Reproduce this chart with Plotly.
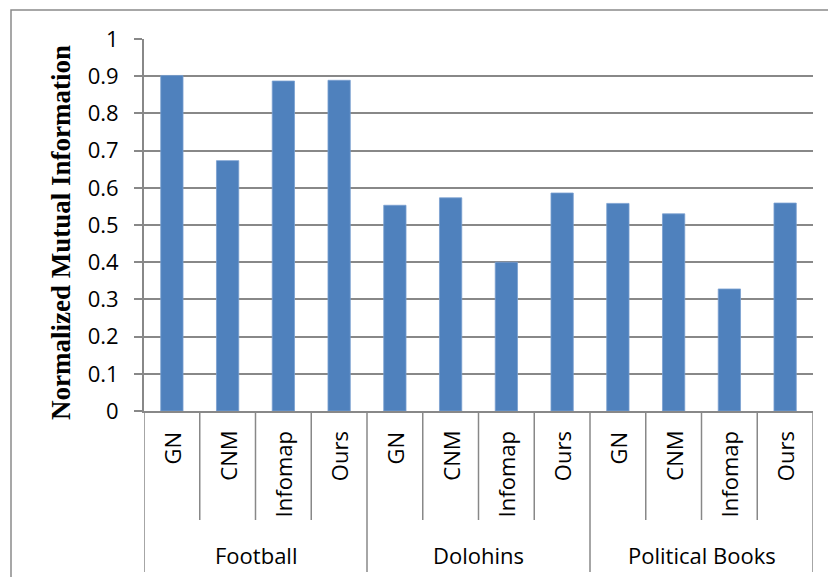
import plotly.graph_objects as go

# ---- data ----
groups = ["Football", "Dolohins", "Political Books"]
methods = ["GN", "CNM", "Infomap", "Ours"]
football = [0.902, 0.673, 0.887, 0.889]
dolphins = [0.553, 0.573, 0.400, 0.586]
polbooks = [0.558, 0.530, 0.328, 0.559]
y_ticks = [0, 0.1, 0.2, 0.3, 0.4, 0.5, 0.6, 0.7, 0.8, 0.9, 1]
y_title = "Normalized Mutual Information"

series = [football, dolphins, polbooks]
values = [v for s in series for v in s]
labels = [m for _ in groups for m in methods]
xs = list(range(len(values)))
n_per = len(methods)

W, H = 828, 577
L, R, T, B = 144, 15, 39, 166
pw, ph = W - L - R, H - T - B

def px2paper_x(px):
    return (px - L) / pw

def py2paper_y(py):
    return (H - B - py) / ph

GRID = "#888888"
BAR = "#4F81BD"
SANS = "Open Sans, Calibri, sans-serif"
TICKFONT = dict(family=SANS, size=22, color="#000000")

fig = go.Figure()
fig.add_trace(go.Bar(
    x=xs, y=values, width=0.4,
    marker=dict(color=BAR, line=dict(color="#7a9fd0", width=0.8)),
    hoverinfo="y", showlegend=False,
))

annotations = []
# inner category labels (rotated)
for i, lab in enumerate(labels):
    annotations.append(dict(
        x=xs[i], xref="x", y=py2paper_y(429), yref="paper",
        text=lab, textangle=-90, showarrow=False,
        xanchor="center", yanchor="top",
        font=dict(family=SANS, size=22, color="#000"),
    ))
# group labels
for g, name in enumerate(groups):
    annotations.append(dict(
        x=g * n_per + (n_per - 1) / 2, xref="x", y=py2paper_y(555), yref="paper",
        text=name, showarrow=False, xanchor="center", yanchor="middle",
        font=dict(family=SANS, size=22, color="#000"),
    ))
# y axis title
annotations.append(dict(
    x=px2paper_x(61), xref="paper", y=py2paper_y(233), yref="paper",
    text="<b>" + y_title + "</b>", textangle=-90, showarrow=False,
    xanchor="center", yanchor="middle",
    font=dict(family="Liberation Serif, Times New Roman, serif", size=27, color="#000"),
))

shapes = []
# separators between methods
for k in range(len(values) + 1):
    xk = k - 0.5
    is_group = (k % n_per == 0)
    shapes.append(dict(
        type="line", xref="x", yref="paper",
        x0=xk, x1=xk, y0=0, y1=py2paper_y(572 if is_group else 520),
        line=dict(color=GRID, width=1.5),
    ))
# outer chart border (partly outside the picture, as in the reference)
shapes.append(dict(
    type="rect", xref="paper", yref="paper",
    x0=px2paper_x(11), x1=px2paper_x(845), y0=py2paper_y(600), y1=py2paper_y(10),
    line=dict(color="#8a8a8a", width=1.5), fillcolor="rgba(0,0,0,0)", layer="below",
))

fig.update_layout(
    width=W, height=H,
    margin=dict(l=L, r=R, t=T, b=B, pad=0),
    paper_bgcolor="white", plot_bgcolor="white",
    bargap=0.6,
    xaxis=dict(
        range=[-0.5, len(values) - 0.5], showticklabels=False, ticks="",
        showgrid=False, zeroline=False, showline=True, linecolor=GRID, linewidth=2,
    ),
    yaxis=dict(
        range=[0, 1], tickvals=y_ticks, ticktext=[f"{v:g}" for v in y_ticks],
        showgrid=True, gridcolor=GRID, gridwidth=2,
        zeroline=False, showline=True, linecolor=GRID, linewidth=2,
        ticks="outside", ticklen=8, tickcolor=GRID, tickwidth=1.5,
        tickfont=TICKFONT, ticklabelstandoff=11,
    ),
    annotations=annotations,
    shapes=shapes,
)

fig.write_html("out.html")
